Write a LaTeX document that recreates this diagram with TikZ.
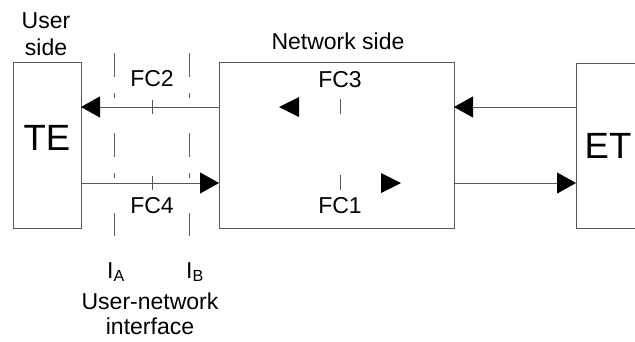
\documentclass[tikz,border=0pt]{standalone}
\usepackage{fontspec}
\setmainfont{Liberation Sans}
\usetikzlibrary{arrows.meta}
\tikzset{
  box/.style={draw=black!65, line width=0.9pt},
  conn/.style={draw=black!65, line width=0.9pt, -{Triangle[length=19pt,width=21pt,color=black,fill=black]}},
  tick/.style={draw=black!65, line width=0.9pt},
  iface/.style={draw=black!65, line width=0.9pt, dash pattern=on 24pt off 16pt on 5pt off 35pt},
  lbl/.style={font=\fontsize{23}{28}\selectfont, inner sep=0pt, anchor=base},
  big/.style={font=\fontsize{36.5}{42}\selectfont, inner sep=0pt, anchor=base},
}
\begin{document}
\begin{tikzpicture}[x=1pt,y=-1pt]
\useasboundingbox (0,0) rectangle (635,341);
\clip (0,0) rectangle (635,341);
% boxes
\draw[box] (13,62) rectangle (81,228);
\draw[box] (219,62) rectangle (454,228);
\draw[box] (576,63) rectangle (660,228);
% anchor coordinates on box edges
\coordinate (teU) at (81,107);
\coordinate (teL) at (81,183);
\coordinate (nwLU) at (219,107);
\coordinate (nwLL) at (219,183);
\coordinate (nwRU) at (454,107);
\coordinate (nwRL) at (454,183);
\coordinate (etU) at (576,107);
\coordinate (etL) at (576,183);
% connectors
\draw[conn] (nwLU) -- (teU);
\draw[conn] (teL) -- (nwLL);
\draw[conn] (etU) -- (nwRU);
\draw[conn] (nwRL) -- (etL);
% interface lines
\coordinate (iaT) at (114,53);
\coordinate (iaB) at (114,236);
\coordinate (ibT) at (189,53);
\coordinate (ibB) at (189,236);
\draw[iface] (iaT) -- (iaB);
\draw[iface] (ibT) -- (ibB);
% ticks
\draw[tick] (152,100) -- (152,114);
\draw[tick] (152,176) -- (152,190);
\draw[tick] (340,99) -- (340,114);
\draw[tick] (340,175) -- (340,190);
% inner triangles
\fill (279,107) -- (299,97) -- (299,117) -- cycle;
\fill (401,183) -- (381,173) -- (381,193) -- cycle;
% labels
\node[lbl] (us1) at (46,28) {User};
\node[lbl] (us2) at (46,55) {side};
\node[lbl] (ns) at (338,49) {Network side};
\node[lbl] (fc2) at (152,86) {FC2};
\node[lbl] (fc4) at (152,213) {FC4};
\node[lbl] (fc3) at (340,87) {FC3};
\node[lbl] (fc1) at (340,213) {FC1};
\node[big] (te) at (47,150) {TE};
\node[big] (et) at (608,158) {ET};
\node[lbl, anchor=base west] (ia) at (107,278) {I\textsubscript{A}};
\node[lbl, anchor=base west] (ib) at (186,278) {I\textsubscript{B}};
\node[lbl] (un1) at (150,309) {User-network};
\node[lbl] (un2) at (150,334) {interface};
\end{tikzpicture}
\end{document}
